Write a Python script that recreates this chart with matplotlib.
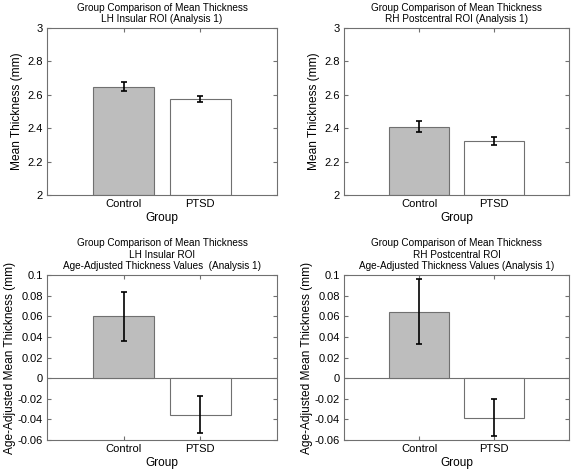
import matplotlib
matplotlib.use("Agg")
import matplotlib.pyplot as plt

plt.rcParams['font.family'] = ['Liberation Sans', 'DejaVu Sans']

groups = ["Control", "PTSD"]

# raw mean thickness (mm) and standard errors
lh_mean = [2.648, 2.574]
lh_err = [0.027, 0.020]
rh_mean = [2.410, 2.325]
rh_err = [0.033, 0.025]

# age-adjusted values
lh_adj = [0.0598, -0.0355]
lh_adj_err = [0.0238, 0.0178]
rh_adj = [0.0642, -0.0385]
rh_adj_err = [0.0315, 0.0178]

titles = [
    "Group Comparison of Mean Thickness\nLH Insular ROI (Analysis 1)",
    "Group Comparison of Mean Thickness\nRH Postcentral ROI (Analysis 1)",
    "Group Comparison of Mean Thickness\nLH Insular ROI\nAge-Adjusted Thickness Values  (Analysis 1)",
    "Group Comparison of Mean Thickness\nRH Postcentral ROI\nAge-Adjusted Thickness Values (Analysis 1)",
]

W, H = 576, 473
fig = plt.figure(figsize=(W / 100, H / 100), dpi=100)

# axes boxes in pixels: left, right, top, bottom
boxes = [(47, 277, 28, 195), (344, 569, 28, 195),
         (47, 277, 275, 440), (344, 569, 275, 440)]
data = [(lh_mean, lh_err), (rh_mean, rh_err),
        (lh_adj, lh_adj_err), (rh_adj, rh_adj_err)]

edge = "#707070"
for i, (box, (vals, errs)) in enumerate(zip(boxes, data)):
    l, r, t, b = box
    ax = fig.add_axes([l / W, 1 - b / H, (r - l) / W, (b - t) / H])
    adjusted = i >= 2
    x = [1, 2]
    base = 0 if adjusted else 2
    heights = [v - base for v in vals]
    ax.bar(x, heights, bottom=base, width=0.8, color=["#bdbdbd", "white"],
           edgecolor=edge, linewidth=0.8, zorder=2)
    ax.errorbar(x, vals, yerr=errs, fmt="none", ecolor="black",
                elinewidth=1.2, capsize=2, capthick=1.2, zorder=3)
    ax.set_xlim(0, 3)
    ax.set_xticks(x)
    ax.set_xticklabels(groups)
    if adjusted:
        ax.set_ylim(-0.06, 0.1)
        ax.set_yticks([-0.06, -0.04, -0.02, 0, 0.02, 0.04, 0.06, 0.08, 0.1])
        ax.set_yticklabels(["-0.06", "-0.04", "-0.02", "0", "0.02", "0.04",
                            "0.06", "0.08", "0.1"])
        ax.axhline(0, color=edge, linewidth=0.8, zorder=1)
        ax.set_ylabel("Age-Adjusted Mean Thickness (mm)", fontsize=8.6, labelpad=1)
    else:
        ax.set_ylim(2, 3)
        ax.set_yticks([2, 2.2, 2.4, 2.6, 2.8, 3])
        ax.set_yticklabels(["2", "2.2", "2.4", "2.6", "2.8", "3"])
        ax.set_ylabel("Mean Thickness (mm)", fontsize=8.6, labelpad=3)
    ax.set_xlabel("Group", fontsize=8.6, labelpad=2)
    ax.set_title(titles[i], fontsize=7.2, linespacing=1.2, pad=4)
    ax.tick_params(direction="in", top=True, right=True, labelsize=8,
                   length=3, color=edge, pad=3)
    for s in ax.spines.values():
        s.set_color(edge)
        s.set_linewidth(0.8)

fig.savefig("out.png", dpi=100)
